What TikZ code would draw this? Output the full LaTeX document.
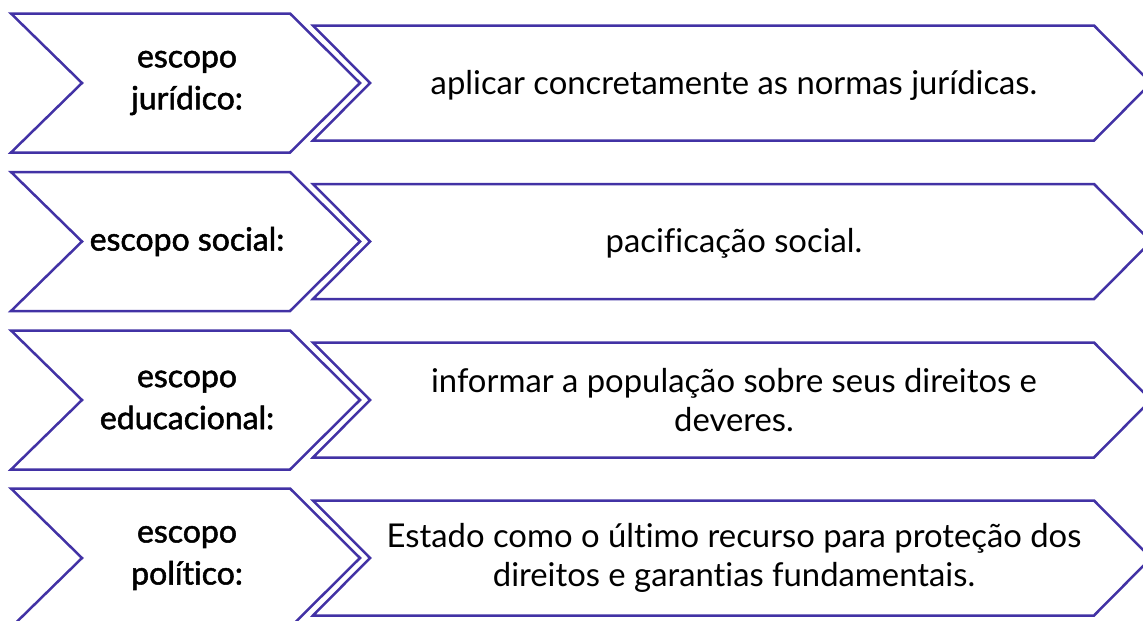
\documentclass[tikz,border=0pt]{standalone}
\usepackage{fontspec}
\setmainfont{Lato}[Ligatures=NoCommon]
\newfontfamily\lfont{Lato}[Ligatures=NoCommon,FakeBold=1.6]
\newfontfamily\rfont{Lato}[Ligatures=NoCommon]
\definecolor{edge}{RGB}{66,50,165}
\begin{document}
\begin{tikzpicture}[x=1pt,y=-1pt,
  chev/.style={draw=edge,line width=2.5pt,fill=white,line join=miter},
  ltext/.style={align=center,font=\lfont\fontsize{32}{42}\selectfont,inner sep=0pt},
  rtext/.style={align=center,font=\rfont\fontsize{32.8}{39}\selectfont,inner sep=0pt}]
\useasboundingbox (0,0) rectangle (1143,621);
\clip (0,0) rectangle (1143,621);
\foreach \cy/\n in {83/a,241.5/b,400/c,558/d}{
  \draw[chev] (313,\cy-57.5) -- (1094,\cy-57.5) -- (1151,\cy) -- (1094,\cy+57.5) -- (313,\cy+57.5) -- (370,\cy) -- cycle;
  \draw[chev] (11,\cy-69.5) -- (290,\cy-69.5) -- (360,\cy) -- (290,\cy+69.5) -- (11,\cy+69.5) -- (82,\cy) -- cycle;
}
\node[ltext] (la) at (187,83) {escopo\\jurídico:};
\node[ltext] (lb) at (187,241.5) {escopo social:};
\node[ltext] (lc) at (187,400) {escopo\\educacional:};
\node[ltext] (ld) at (187,558) {escopo\\político:};
\node[rtext] (ra) at (734,85) {aplicar concretamente as normas jurídicas.};
\node[rtext] (rb) at (734,243) {pacificação social.};
\node[rtext] (rc) at (734,400) {informar a população sobre seus direitos e\\deveres.};
\node[rtext] (rd) at (734,558) {Estado como o último recurso para proteção dos\\direitos e garantias fundamentais.};
\end{tikzpicture}
\end{document}
